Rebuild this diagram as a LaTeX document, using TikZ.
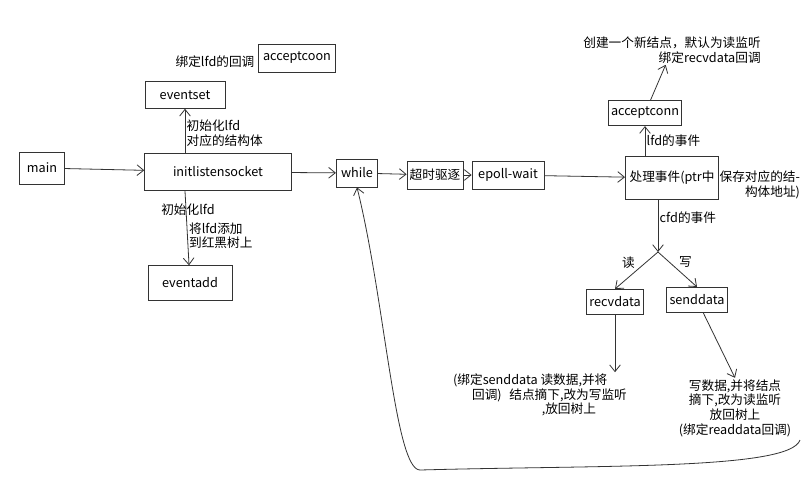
\documentclass[tikz,border=0pt]{standalone}
\usepackage{fontspec}
\setmainfont{Noto Sans CJK SC}
\usetikzlibrary{arrows.meta}
\begin{document}
\begin{tikzpicture}[x=0.75pt,y=-0.75pt,
  box/.style={draw=black!80,line width=0.6pt,inner sep=2pt,font=\fontsize{9.5}{11}\selectfont},
  lbl/.style={font=\fontsize{9.5}{11}\selectfont,align=left,inner sep=1pt},
  arr/.style={draw=black!80,-{Straight Barb[length=5pt,width=8pt]},line width=0.6pt}]
\fill[white] (0,0) rectangle (806,487);
\useasboundingbox (0,0) rectangle (806,487);
\node[box,minimum width=34pt,minimum height=24pt] (main) at (42,168) {main};
\node[box,minimum width=110pt,minimum height=28pt] (init) at (218,172) {initlistensocket};
\node[box,minimum width=60pt,minimum height=20pt] (eset) at (185,95) {eventset};
\node[box,minimum width=58pt,minimum height=21pt] (acc0) at (297,58) {acceptcoon};
\node[lbl,anchor=east] (l0) at (256,62) {绑定lfd的回调};
\node[box,minimum width=63pt,minimum height=26pt] (eadd) at (190,283) {eventadd};
\node[box,minimum width=31pt,minimum height=21pt] (while) at (357,173) {while};
\node[box,minimum width=40pt,minimum height=21pt] (tmo) at (435,175) {超时驱逐};
\node[box,minimum width=54pt,minimum height=21pt] (ew) at (508,175) {epoll-wait};
\node[box,minimum width=70pt,minimum height=32pt,anchor=west] (proc) at (625,178) {处理事件(ptr中};
\node[lbl,anchor=west,align=right] (pl) at (718,185) {保存对应的结-\\构体地址)};
\node[box,minimum width=52pt,minimum height=19pt] (acc) at (645,113) {acceptconn};
\node[lbl,align=right] (accl) at (672,50) {创建一个新结点，默认为读监听\\绑定recvdata回调};
\node[box,minimum width=38pt,minimum height=19pt] (recv) at (615,302) {recvdata};
\node[box,minimum width=42pt,minimum height=19pt] (send) at (697,300) {senddata};
\coordinate (split) at (658,252);
\node[lbl,align=left] (rtxt) at (540,395) {(绑定senddata 读数据,并将\\\hspace{1.5em}回调)\hspace{0.6em}结点摘下,改为写监听\\\hspace{7em},放回树上};
\node[lbl,align=center] (stxt) at (735,408) {写数据,并将结点\\摘下,改为读监听\\放回树上\\(绑定readdata回调)};
\coordinate (loopa) at (800,440);
\draw[arr] (main) -- (init);
\draw[arr] (init.north -| eset) -- node[lbl,right,pos=0.45,align=left]{初始化lfd\\对应的结构体} (eset);
\draw[arr] (init.south -| eset) -- node[lbl,right,pos=0.6,align=left]{将lfd添加\\到红黑树上} (eadd);
\node[lbl] at (188,210) {初始化lfd};
\draw[arr] (init) -- (while);
\draw[arr] (while) -- (tmo);
\draw[arr] (tmo) -- (ew);
\draw[arr] (ew) -- (proc);
\draw[arr] (proc.north -| acc) -- node[lbl,right]{lfd的事件} (acc);
\draw[arr] (acc) -- (accl);
\draw[arr] (proc.south -| split) -- node[lbl,right,pos=0.35]{cfd的事件} (split);
\draw[arr] (split) -- node[lbl,above left]{读} (recv.north);
\draw[arr] (split) -- node[lbl,above right]{写} (send.north);
\draw[arr] (recv) -- (rtxt.north -| recv);
\draw[arr] (send) -- (stxt.north);
\draw[arr] (loopa) .. controls (790,470) and (600,465) .. (420,470) .. controls (395,470) and (385,300) .. (while.south);
\end{tikzpicture}
\end{document}
